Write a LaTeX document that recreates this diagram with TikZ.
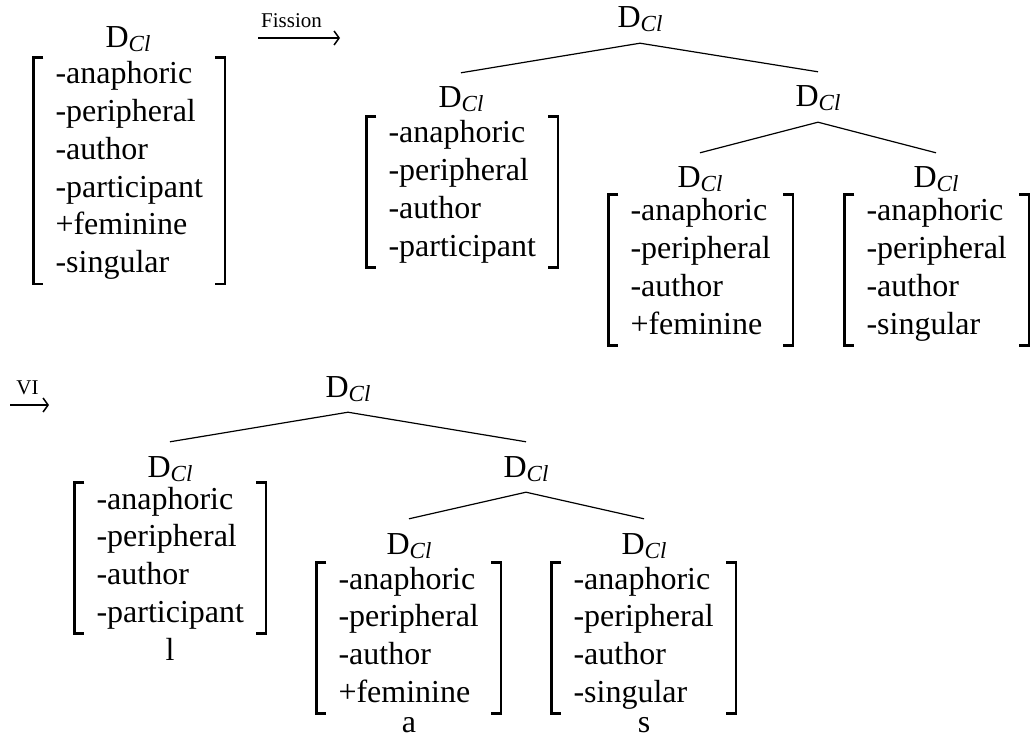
\documentclass[tikz,border=0pt]{standalone}
\usepackage{fontspec}
\setmainfont{Liberation Serif}
\usetikzlibrary{arrows.meta}
\newcommand{\dcl}{D\raisebox{-4pt}{\fontsize{23}{23}\selectfont\itshape Cl}}
\newcommand{\feats}[1]{\begin{tabular}[t]{@{}l@{}}#1\end{tabular}}
\newcommand{\fsbrackets}[1]{%
  \draw[brk] ([xshift=10pt]#1.north west) -- (#1.north west) -- (#1.south west) -- ([xshift=10pt]#1.south west);
  \draw[brk] ([xshift=-10pt]#1.north east) -- (#1.north east) -- (#1.south east) -- ([xshift=-10pt]#1.south east);}
\begin{document}
\begin{tikzpicture}[x=1pt,y=-1pt,
  big/.style={font=\fontsize{32}{37.7}\selectfont},
  cat/.style={big, inner xsep=0pt, inner ysep=14pt, text height=21pt, text depth=1pt, anchor=base},
  fs/.style={big, inner xsep=22pt, inner ysep=0pt, anchor=base west},
  brk/.style={line width=2.6pt},
  edge/.style={line width=1.2pt},
  leaf/.style={big, inner sep=0pt, anchor=base},
  small/.style={font=\fontsize{21}{21}\selectfont, inner sep=0pt, anchor=base},
  arr/.style={line width=1.5pt, -{Straight Barb[length=5pt,width=14pt,line width=1.5pt]}},
]
\useasboundingbox (0,0) rectangle (1036,738);

% ---- original structure
\node[cat] (a) at (128,48) {\dcl};
\node[fs] (af) at (33.3,84) {\feats{-anaphoric\\-peripheral\\-author\\-participant\\+feminine\\-singular}};
\fsbrackets{af}

% ---- Fission arrow
\coordinate (f1) at (258,38);
\coordinate (f2) at (340,38);
\draw[arr] (f1) -- (f2);
\node[small] (flab) at (291.5,28) {Fission};

% ---- top tree
\node[cat] (t0) at (640,28) {\dcl};
\node[cat] (t1) at (461,108) {\dcl};
\node[fs] (t1f) at (366.3,143) {\feats{-anaphoric\\-peripheral\\-author\\-participant}};
\fsbrackets{t1f}
\node[cat] (t2) at (818,107) {\dcl};
\node[cat] (t3) at (700,188) {\dcl};
\node[fs] (t3f) at (608.3,221) {\feats{-anaphoric\\-peripheral\\-author\\+feminine}};
\fsbrackets{t3f}
\node[cat] (t4) at (936,188) {\dcl};
\node[fs] (t4f) at (844.3,221) {\feats{-anaphoric\\-peripheral\\-author\\-singular}};
\fsbrackets{t4f}
\draw[edge] (t0.south) -- (t1.north);
\draw[edge] (t0.south) -- (t2.north);
\draw[edge] (t2.south) -- (t3.north);
\draw[edge] (t2.south) -- (t4.north);

% ---- VI arrow
\coordinate (v1) at (10,405);
\coordinate (v2) at (49,405);
\draw[arr] (v1) -- (v2);
\node[small] (vlab) at (27.5,394) {VI};

% ---- bottom tree
\node[cat] (b0) at (348,397) {\dcl};
\node[cat] (b1) at (170,477) {\dcl};
\node[fs] (b1f) at (74.3,509) {\feats{-anaphoric\\-peripheral\\-author\\-participant}};
\fsbrackets{b1f}
\node[leaf] (bl) at (170,660) {l};
\node[cat] (b2) at (526,477) {\dcl};
\node[cat] (b3) at (409,554) {\dcl};
\node[fs] (b3f) at (316.3,589) {\feats{-anaphoric\\-peripheral\\-author\\+feminine}};
\fsbrackets{b3f}
\node[leaf] (ba) at (409,732) {a};
\node[cat] (b4) at (644,554) {\dcl};
\node[fs] (b4f) at (551.3,589) {\feats{-anaphoric\\-peripheral\\-author\\-singular}};
\fsbrackets{b4f}
\node[leaf] (bs) at (644,732) {s};
\draw[edge] (b0.south) -- (b1.north);
\draw[edge] (b0.south) -- (b2.north);
\draw[edge] (b2.south) -- (b3.north);
\draw[edge] (b2.south) -- (b4.north);
\end{tikzpicture}
\end{document}
